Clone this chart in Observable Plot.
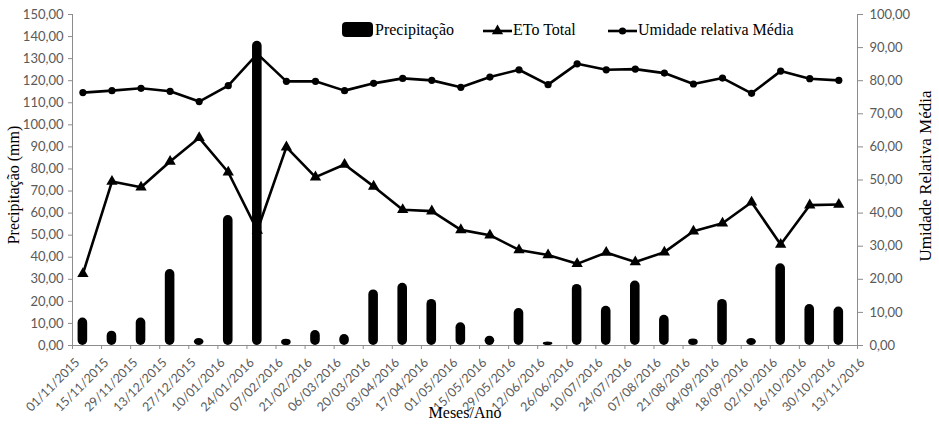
<!DOCTYPE html>
<html>
<head>
<meta charset="utf-8">
<script src="https://cdn.jsdelivr.net/npm/d3@7"></script>
<script src="https://cdn.jsdelivr.net/npm/@observablehq/plot@0.6"></script>
<style>
  html, body { margin: 0; padding: 0; background: #fff; }
  #wrap { position: relative; width: 939px; height: 427px; }
  #legend { position: absolute; left: 0; top: 0; pointer-events: none; }
</style>
</head>
<body>
<div id="wrap"></div>
<script>
// ---- data ----
const dates = ["01/11/2015","15/11/2015","29/11/2015","13/12/2015","27/12/2015","10/01/2016","24/01/2016",
  "07/02/2016","21/02/2016","06/03/2016","20/03/2016","03/04/2016","17/04/2016","01/05/2016","15/05/2016",
  "29/05/2016","12/06/2016","26/06/2016","10/07/2016","24/07/2016","07/08/2016","21/08/2016","04/09/2016",
  "18/09/2016","02/10/2016","16/10/2016","30/10/2016","13/11/2016"];
const precipitacao = [12.5, 6.5, 12.5, 34.4, 3.2, 58.9, 137.9, 2.8, 6.8, 5.0, 25.2, 28.2, 20.9, 10.3,
  4.2, 16.8, 1.6, 27.7, 17.8, 29.2, 13.7, 3.0, 20.9, 3.2, 37.0, 18.6, 17.4];
const etoTotal = [32.5, 74.3, 71.7, 83.4, 94.1, 78.5, 52.1, 89.9, 76.3, 82.0, 72.1, 61.5, 60.9, 52.4,
  50.0, 43.3, 41.0, 37.0, 42.1, 37.8, 42.3, 51.8, 55.4, 64.9, 45.8, 63.6, 63.9];
const umidade = [76.4, 77.0, 77.7, 76.8, 73.7, 78.5, 88.1, 79.8, 79.8, 77.0, 79.2, 80.7, 80.1, 78.0,
  81.1, 83.3, 78.8, 85.1, 83.3, 83.5, 82.3, 79.0, 80.8, 76.2, 82.9, 80.6, 80.1];
const leftTicks = [0,10,20,30,40,50,60,70,80,90,100,110,120,130,140,150];
const rightTicks = [0,10,20,30,40,50,60,70,80,90,100];

// ---- derived table ----
const ratio = 150 / 100;      // right axis (0-100) mapped onto left (0-150)
const offset = 5 / 14;        // data point sits 5 days after the 14-day tick
const table = precipitacao.map((p, i) => ({i, x: i + offset, p, eto: etoTotal[i], um: umidade[i] * ratio}));
const fmt = v => d3.format(".2f")(v).replace(".", ",");

const numFont = "Lato, 'Open Sans', sans-serif";
const serif = "'Liberation Serif', 'DejaVu Serif', serif";
const gray = "#595959";
const axisGray = "#8c8c8c";

const plot = Plot.plot({
  width: 939,
  height: 427,
  marginLeft: 72,
  marginRight: 82,
  marginTop: 14,
  marginBottom: 82,
  style: {background: "transparent", overflow: "visible"},
  x: {type: "linear", domain: [0, dates.length - 1]},
  y: {domain: [0, 150]},
  marks: [
    Plot.ruleY([0], {stroke: axisGray}),
    Plot.ruleX([0, dates.length - 1], {stroke: axisGray}),
    Plot.axisY({anchor: "left", ticks: leftTicks, tickFormat: fmt, tickSize: 4, tickPadding: 5,
      stroke: axisGray, fill: gray, fontSize: 13, fontFamily: numFont, label: null}),
    Plot.axisY({anchor: "right", ticks: rightTicks.map(t => t * ratio), tickFormat: d => fmt(d / ratio),
      tickSize: 5, tickPadding: 7, stroke: axisGray, fill: gray, fontSize: 13, fontFamily: numFont, label: null}),
    Plot.axisX({anchor: "bottom", ticks: d3.range(dates.length), tickFormat: i => dates[i], tickRotate: -45,
      tickSize: 4, tickPadding: 4, stroke: axisGray, fill: gray, fontSize: 12.5, fontFamily: numFont, label: null}),
    Plot.axisX({anchor: "bottom", ticks: d3.range(dates.length), tickFormat: () => "", tickSize: 0,
      stroke: "none", label: null}),
    Plot.rectY(table, {x1: d => d.x - 0.165, x2: d => d.x + 0.165, y1: 0, y2: "p", fill: "black", rx: 5}),
    Plot.line(table, {x: "x", y: "eto", stroke: "black", strokeWidth: 2.6}),
    Plot.dot(table, {x: "x", y: "eto", symbol: "triangle", r: 4.2, fill: "black"}),
    Plot.line(table, {x: "x", y: "um", stroke: "black", strokeWidth: 2.6}),
    Plot.dot(table, {x: "x", y: "um", r: 3.6, fill: "black"}),
    Plot.text(["Precipitação (mm)"], {frameAnchor: "left", textAnchor: "middle", rotate: -90, dx: -59, dy: 5,
      fontSize: 16, fontFamily: serif, fill: "black"}),
    Plot.text(["Umidade Relativa Média"], {frameAnchor: "right", textAnchor: "middle", rotate: -90, dx: 68, dy: -4,
      fontSize: 17, fontFamily: serif, fill: "black"}),
    Plot.text(["Meses/Ano"], {frameAnchor: "bottom", dy: 72, fontSize: 16, fontFamily: serif, fill: "black"})
  ]
});

const wrap = document.getElementById("wrap");
wrap.appendChild(plot);

// shift rotated date labels slightly down/right as in the reference
plot.querySelectorAll("g[aria-label='x-axis tick label'] text").forEach(t => {
  const tr = t.getAttribute("transform") || "";
  t.setAttribute("transform", `translate(5,7) ${tr}`);
});

// ---- legend overlay ----
const ns = "http://www.w3.org/2000/svg";
const leg = document.createElementNS(ns, "svg");
leg.setAttribute("id", "legend");
leg.setAttribute("width", 939);
leg.setAttribute("height", 50);
leg.innerHTML = `
  <rect x="342" y="22" width="31" height="15" rx="4" fill="black"/>
  <text x="375" y="35" font-family="${serif}" font-size="16" fill="black">Precipitação</text>
  <line x1="483" y1="31" x2="512" y2="31" stroke="black" stroke-width="2.6"/>
  <path d="${d3.symbol(d3.symbolTriangle, 55)()}" transform="translate(497.5,31)" fill="black"/>
  <text x="513" y="35" font-family="${serif}" font-size="16" fill="black">ETo Total</text>
  <line x1="608" y1="31" x2="637" y2="31" stroke="black" stroke-width="2.6"/>
  <circle cx="622.5" cy="31" r="3.6" fill="black"/>
  <text x="638" y="35" font-family="${serif}" font-size="16" fill="black">Umidade relativa Média</text>
`;
wrap.appendChild(leg);
</script>
</body>
</html>
